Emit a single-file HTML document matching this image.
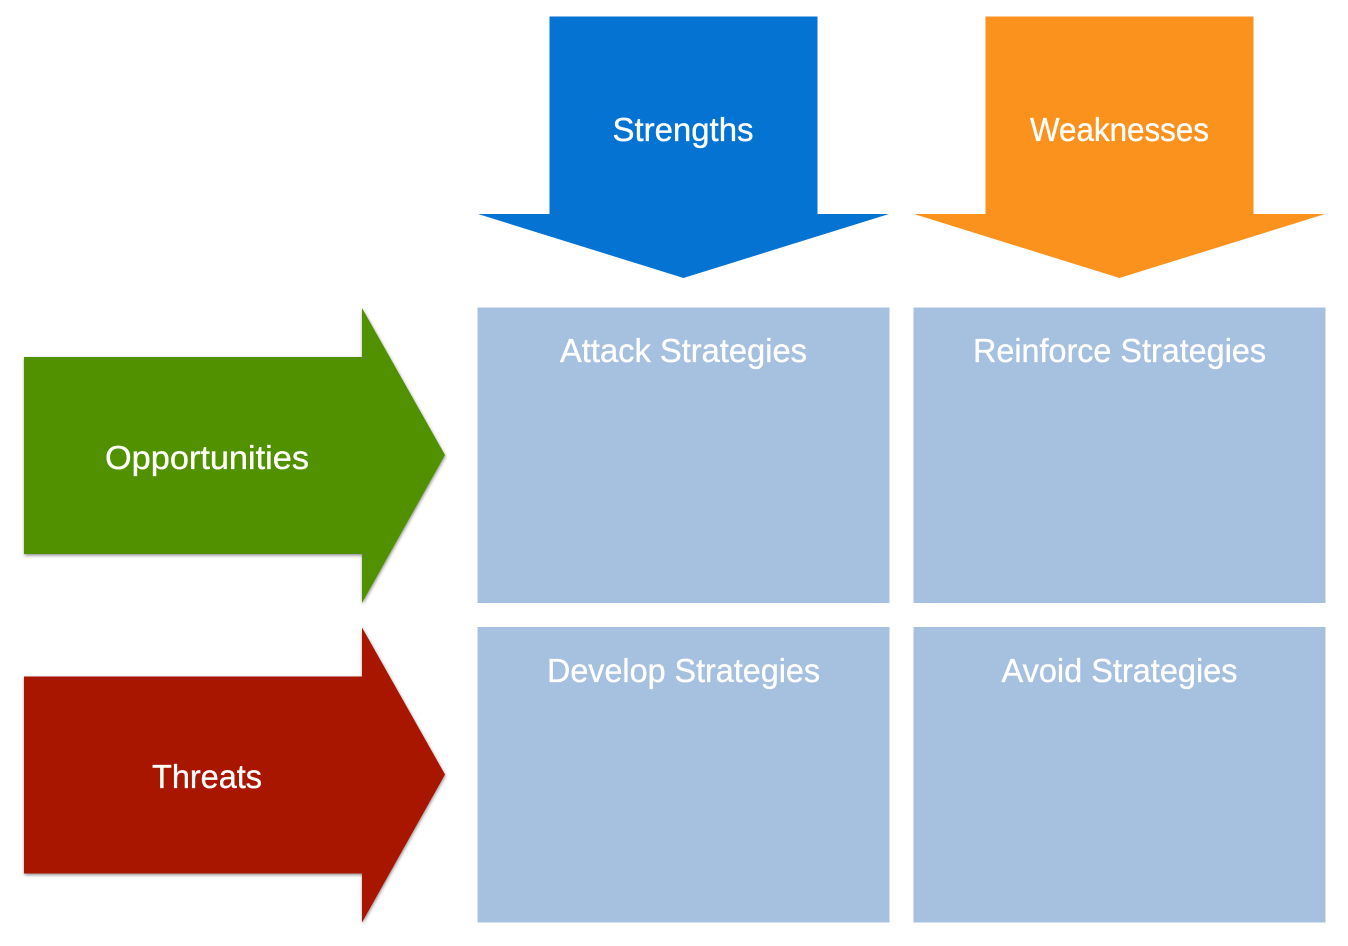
<!DOCTYPE html>
<html>
<head>
<meta charset="utf-8">
<style>
html,body{margin:0;padding:0;background:#fff;width:1348px;height:946px;overflow:hidden}
svg{display:block}
text{font-family:"Liberation Sans",sans-serif;font-size:33px;fill:#fff;stroke:#fff;stroke-width:0.35px;text-anchor:middle}
</style>
</head>
<body>
<svg width="1348" height="946" viewBox="0 0 1348 946" xmlns="http://www.w3.org/2000/svg">
<defs>
<filter id="s" x="-5%" y="-5%" width="110%" height="110%">
<feDropShadow dx="0.5" dy="1.5" stdDeviation="1.5" flood-color="#000" flood-opacity="0.45"/>
</filter>
</defs>
<polygon points="549.500,16.500 817.500,16.500 817.500,214 889,214 683.500,278 478,214 549.500,214" fill="#0573d1"/>
<polygon points="985.500,16.500 1253.500,16.500 1253.500,214 1325,214 1119.500,278 914,214 985.500,214" fill="#fb921d"/>
<polygon points="24,357 362,357 362,308 445,455 362,603 362,554 24,554" fill="#519106" filter="url(#s)"/>
<polygon points="24,676.500 362,676.500 362,627.500 445,774.500 362,922.500 362,873.500 24,873.500" fill="#a91500" filter="url(#s)"/>
<rect x="477.500" y="307.500" width="412" height="295.500" fill="#a6c0df"/>
<rect x="913.500" y="307.500" width="412" height="295.500" fill="#a6c0df"/>
<rect x="477.500" y="627" width="412" height="295.500" fill="#a6c0df"/>
<rect x="913.500" y="627" width="412" height="295.500" fill="#a6c0df"/>
<text x="683" y="141" textLength="141" lengthAdjust="spacingAndGlyphs">Strengths</text>
<text x="1119.500" y="141" textLength="179" lengthAdjust="spacingAndGlyphs">Weaknesses</text>
<text x="207" y="469" textLength="204" lengthAdjust="spacingAndGlyphs">Opportunities</text>
<text x="207" y="788" textLength="110" lengthAdjust="spacingAndGlyphs">Threats</text>
<text x="683.500" y="362" textLength="247" lengthAdjust="spacingAndGlyphs">Attack Strategies</text>
<text x="1119.500" y="362" textLength="293" lengthAdjust="spacingAndGlyphs">Reinforce Strategies</text>
<text x="683.500" y="682" textLength="273" lengthAdjust="spacingAndGlyphs">Develop Strategies</text>
<text x="1119.500" y="682" textLength="236" lengthAdjust="spacingAndGlyphs">Avoid Strategies</text>
</svg>
</body>
</html>
